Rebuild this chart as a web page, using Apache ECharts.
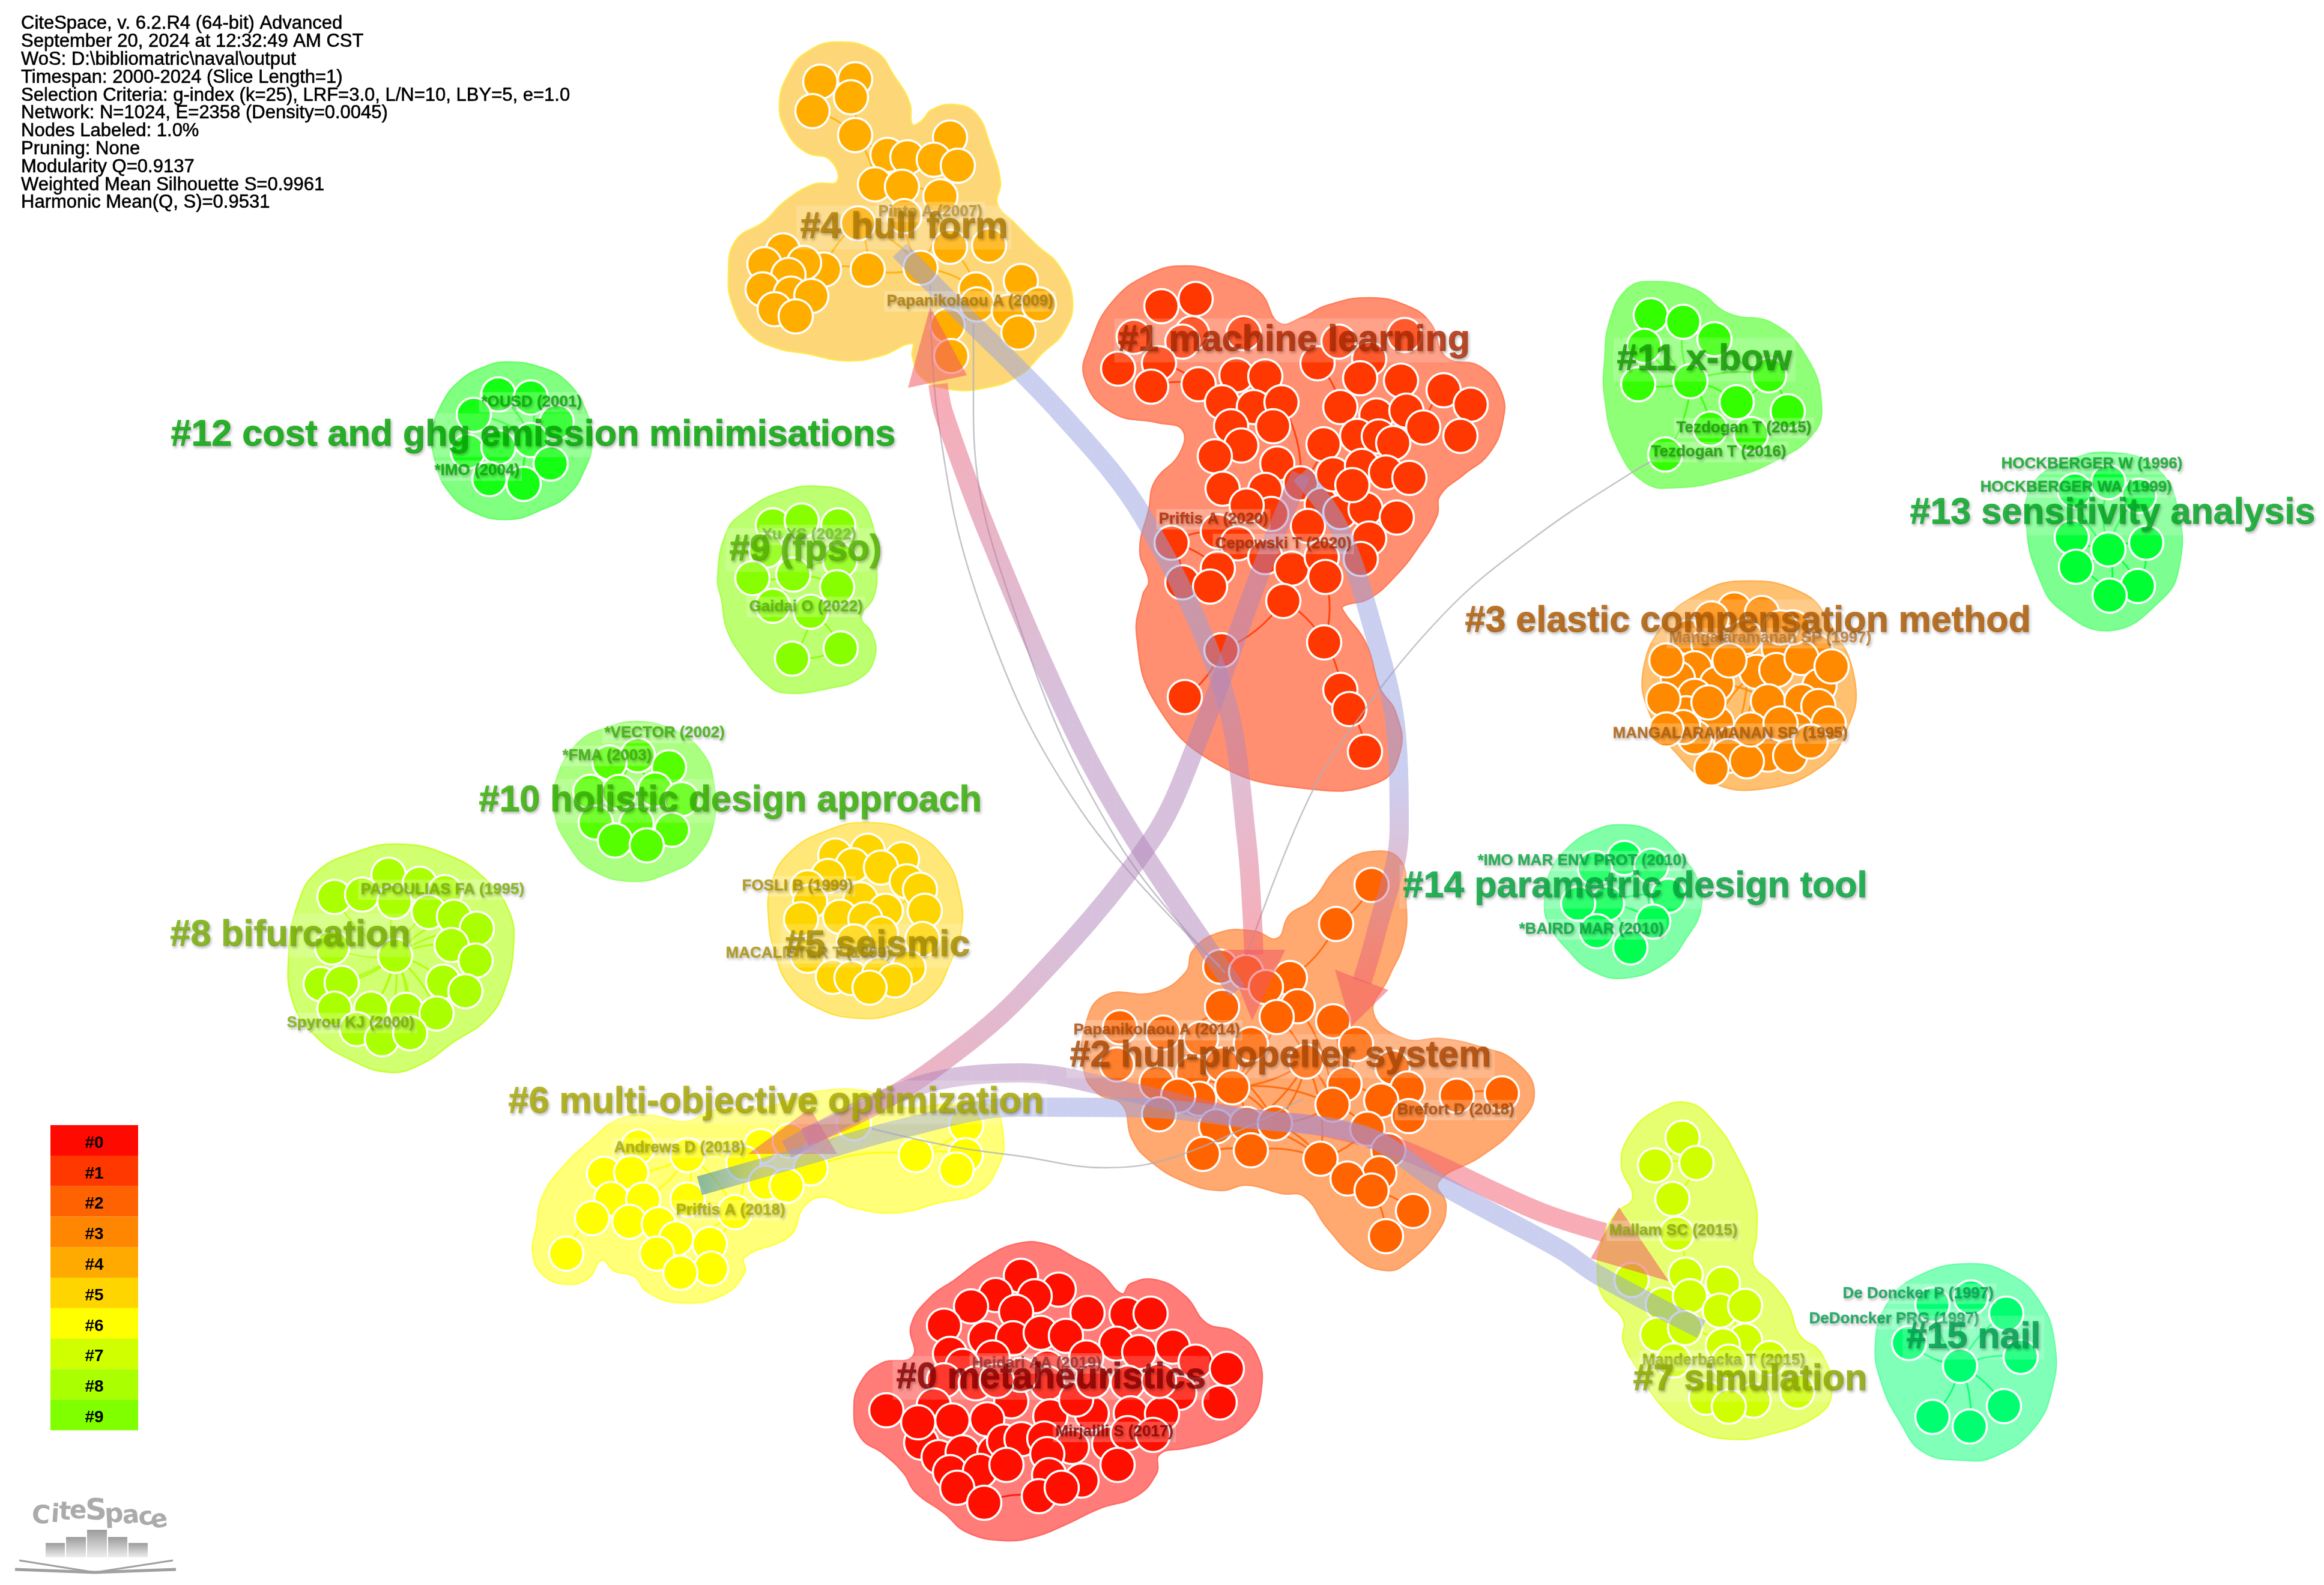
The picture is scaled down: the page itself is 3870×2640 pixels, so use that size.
<!DOCTYPE html>
<html>
<head>
<meta charset="utf-8">
<title>CiteSpace cluster view</title>
<script src="https://cdn.jsdelivr.net/npm/echarts@6/dist/echarts.min.js"></script>
<style>
html,body{margin:0;padding:0;background:#fff;}
#main{width:3870px;height:2640px;}
</style>
</head>
<body>
<div id="main"></div>
<script>
// node positions per cluster (x, y in picture pixels)
var nodes0 = [[1700,2125],[1763,2148],[1658,2157],[1723,2159],[1617,2176],[1692,2185],[1811,2187],[1876,2189],[1916,2188],[1572,2208],[1641,2229],[1687,2229],[1733,2220],[1775,2225],[1859,2238],[1897,2252],[1953,2243],[1991,2268],[2043,2280],[2031,2336],[1582,2255],[1653,2261],[1603,2275],[1809,2261],[1744,2278],[1572,2299],[1625,2304],[1684,2334],[1744,2304],[1878,2303],[1964,2320],[1476,2349],[1555,2341],[1586,2366],[1644,2364],[1749,2359],[1818,2354],[1883,2354],[1935,2355],[1792,2331],[1534,2403],[1563,2427],[1603,2419],[1656,2419],[1672,2401],[1701,2397],[1739,2396],[1785,2410],[1847,2405],[1878,2387],[1744,2422],[1582,2452],[1632,2450],[1676,2440],[1747,2457],[1861,2440],[1594,2478],[1639,2503],[1730,2492],[1801,2466],[1768,2478],[1529,2369],[1930,2300],[1700,2290],[1820,2300],[1660,2300],[1920,2390]];
var nodes1 = [[1934,510],[1991,498],[1985,555],[2071,555],[1888,561],[1969,569],[1862,614],[1930,605],[1917,644],[1996,640],[2059,625],[2107,627],[2035,670],[2088,678],[2134,670],[2120,710],[2050,710],[2067,742],[2023,760],[2127,772],[2036,814],[2107,816],[2166,805],[2201,841],[2117,856],[2076,842],[2178,876],[2028,885],[1951,904],[2061,905],[2107,928],[2028,947],[1969,970],[2015,977],[2151,947],[2201,928],[2207,961],[2232,853],[2274,848],[2326,862],[2280,897],[2266,931],[2137,1001],[2034,1083],[2205,1070],[2232,1149],[2247,1181],[2273,1252],[1973,1161],[2194,605],[2229,569],[2280,598],[2265,630],[2333,634],[2339,558],[2232,678],[2292,692],[2342,684],[2370,712],[2404,650],[2449,674],[2432,726],[2204,740],[2260,726],[2296,727],[2320,738],[2220,790],[2268,776],[2308,787],[2347,796],[2252,808]];
var nodes2 = [[2284,1474],[2225,1539],[2148,1629],[2032,1610],[2075,1619],[2108,1644],[2161,1676],[2035,1677],[2220,1701],[2126,1694],[2258,1739],[2083,1739],[1865,1711],[1937,1720],[2000,1730],[1860,1773],[1926,1804],[1987,1787],[2035,1773],[2175,1768],[2319,1778],[2239,1806],[2344,1813],[2052,1811],[1997,1830],[2300,1833],[2426,1825],[2501,1821],[1962,1825],[2219,1840],[2346,1859],[2277,1880],[1930,1856],[2025,1876],[2076,1872],[2123,1871],[2312,1916],[2003,1922],[2083,1916],[2199,1930],[2297,1954],[2244,1963],[2284,1983],[2353,2017],[2308,2059]];
var nodes3 = [[2888,1015],[2934,1021],[2812,1061],[2906,1061],[2962,1079],[3023,1084],[2845,1073],[2822,1113],[2794,1130],[2859,1139],[2925,1119],[2958,1116],[3000,1096],[3030,1142],[2822,1159],[2944,1168],[3000,1168],[3028,1176],[2808,1188],[2859,1205],[2991,1216],[2822,1228],[2883,1239],[2944,1257],[2981,1259],[2878,1259],[2909,1268],[2803,1211],[2850,1030],[2985,1045],[2775,1100],[2880,1100],[2770,1165],[2775,1215],[3050,1110],[3045,1205],[3015,1235],[2850,1280],[2915,1215],[2965,1205],[2845,1170],[2965,1045]];
var nodes4 = [[1366,136],[1424,132],[1417,162],[1353,185],[1424,225],[1582,229],[1478,258],[1511,262],[1555,266],[1595,276],[1457,307],[1502,311],[1566,327],[1506,360],[1429,372],[1582,411],[1647,409],[1533,446],[1445,449],[1372,449],[1304,417],[1339,438],[1273,440],[1313,458],[1270,482],[1317,489],[1351,493],[1290,515],[1325,527],[1625,482],[1627,507],[1700,468],[1680,519],[1730,507],[1696,554],[1578,542],[1584,593]];
var nodes5 = [[1445,1417],[1391,1425],[1502,1431],[1420,1441],[1467,1445],[1379,1459],[1510,1468],[1345,1478],[1532,1482],[1433,1498],[1349,1502],[1540,1517],[1475,1517],[1334,1531],[1399,1527],[1441,1531],[1467,1555],[1536,1564],[1422,1568],[1345,1592],[1513,1612],[1387,1627],[1418,1629],[1464,1623],[1490,1633],[1448,1645]];
var nodes6 = [[1063,1910],[1145,1924],[1267,1909],[1315,1900],[1422,1871],[1609,1874],[1525,1924],[1608,1924],[1593,1948],[1006,1955],[1051,1953],[1238,1937],[1350,1946],[1275,1970],[1310,1975],[1018,1997],[1071,1998],[1145,1998],[1224,2019],[986,2029],[1048,2035],[1097,2039],[1126,2063],[1182,2072],[943,2088],[1094,2088],[1184,2113],[1133,2120]];
var nodes7 = [[2802,1895],[2756,1941],[2825,1937],[2785,1997],[2792,2055],[2807,2123],[2869,2138],[2717,2132],[2769,2173],[2814,2159],[2864,2183],[2906,2175],[2760,2223],[2806,2212],[2906,2233],[2869,2241],[2947,2262],[2879,2268],[2787,2266],[2993,2318],[2841,2328],[2920,2333],[2879,2343]];
var nodes8 = [[647,1457],[699,1472],[557,1494],[603,1490],[741,1486],[657,1502],[714,1519],[756,1527],[794,1547],[752,1574],[553,1578],[658,1592],[792,1600],[534,1639],[569,1637],[738,1635],[775,1651],[557,1680],[618,1680],[676,1682],[727,1688],[594,1714],[636,1731],[683,1721]];
var nodes9 = [[1287,875],[1335,867],[1396,875],[1276,917],[1399,934],[1253,963],[1321,957],[1394,978],[1287,1009],[1350,1019],[1400,1080],[1319,1097]];
var nodes10 = [[1062,1258],[1015,1270],[1114,1278],[983,1319],[1031,1319],[1091,1315],[1135,1331],[992,1370],[1060,1372],[1119,1382],[1024,1400],[1077,1408]];
var nodes11 = [[2749,525],[2803,536],[2855,565],[2738,576],[2728,640],[2815,635],[2946,625],[2892,670],[2977,685],[2916,723],[2848,714],[2773,757]];
var nodes12 = [[830,657],[884,662],[789,691],[927,703],[884,733],[779,752],[830,745],[917,772],[815,798],[872,806]];
var nodes13 = [[3511,803],[3455,817],[3562,826],[3450,895],[3511,915],[3574,904],[3457,944],[3560,976],[3513,992]];
var nodes14 = [[2705,1429],[2656,1446],[2750,1442],[2676,1505],[2628,1505],[2778,1492],[2753,1535],[2659,1551],[2715,1578]];
var nodes15 = [[3218,2173],[3282,2161],[3341,2188],[3179,2237],[3365,2260],[3264,2275],[3337,2342],[3218,2360],[3280,2376]];

// cluster outlines
var hull0 = [[1696,2071],[1744,2073],[1792,2096],[1830,2117],[1868,2155],[1883,2138],[1926,2132],[1974,2159],[2009,2204],[2055,2218],[2093,2257],[2100,2317],[2079,2366],[2031,2397],[1974,2412],[1931,2422],[1926,2454],[1892,2492],[1830,2513],[1773,2540],[1725,2559],[1672,2566],[1610,2552],[1572,2520],[1524,2485],[1505,2454],[1472,2422],[1433,2394],[1422,2348],[1433,2303],[1467,2271],[1520,2259],[1517,2208],[1548,2162],[1591,2131],[1639,2096]];
var hull1 = [[1974,443],[2036,457],[2097,486],[2130,538],[2168,529],[2209,509],[2280,496],[2342,509],[2382,538],[2408,595],[2464,610],[2500,653],[2502,704],[2479,756],[2438,790],[2398,825],[2393,859],[2362,911],[2326,957],[2280,997],[2240,1008],[2235,1014],[2275,1072],[2298,1146],[2324,1186],[2332,1250],[2295,1303],[2172,1313],[2024,1271],[1925,1172],[1893,1060],[1903,991],[1913,968],[1898,917],[1913,848],[1923,802],[1964,756],[1969,716],[1928,704],[1852,687],[1806,630],[1816,572],[1852,503],[1913,457]];
var hull2 = [[2287,1418],[2332,1433],[2341,1496],[2338,1567],[2312,1629],[2287,1687],[2338,1730],[2402,1730],[2466,1744],[2523,1768],[2555,1821],[2523,1878],[2466,1926],[2395,1969],[2408,2007],[2395,2050],[2338,2107],[2306,2116],[2261,2098],[2210,2045],[2172,1993],[2134,1988],[2076,1974],[2032,1983],[1974,1969],[1917,1935],[1885,1897],[1869,1840],[1828,1821],[1805,1782],[1808,1706],[1840,1658],[1923,1653],[1974,1620],[1987,1582],[2032,1553],[2089,1551],[2127,1563],[2147,1524],[2185,1500],[2230,1443]];
var hull3 = [[2897,968],[3000,987],[3047,1038],[3089,1136],[3075,1216],[3028,1280],[2934,1314],[2850,1303],[2794,1257],[2747,1188],[2737,1113],[2775,1033],[2822,993]];
var hull4 = [[1392,70],[1457,85],[1490,128],[1515,172],[1519,207],[1535,201],[1551,183],[1588,174],[1625,189],[1649,242],[1666,303],[1661,340],[1690,372],[1727,409],[1763,442],[1786,499],[1772,552],[1735,589],[1698,625],[1641,646],[1580,648],[1535,629],[1519,593],[1519,572],[1466,593],[1408,601],[1343,589],[1294,580],[1249,556],[1221,511],[1213,458],[1225,401],[1274,368],[1306,336],[1355,307],[1394,302],[1382,266],[1343,254],[1311,221],[1298,172],[1315,119],[1343,87]];
var hull5 = [[1445,1370],[1521,1388],[1575,1433],[1598,1490],[1601,1547],[1582,1604],[1552,1657],[1498,1686],[1429,1696],[1360,1678],[1314,1641],[1291,1588],[1280,1531],[1284,1474],[1314,1421],[1376,1384]];
var hull6 = [[1029,1865],[1083,1858],[1143,1868],[1186,1850],[1262,1847],[1316,1833],[1359,1818],[1446,1818],[1500,1844],[1582,1839],[1652,1844],[1671,1897],[1663,1941],[1630,1985],[1565,2003],[1490,2020],[1419,2011],[1370,1994],[1338,2011],[1316,2058],[1240,2094],[1240,2120],[1202,2158],[1132,2170],[1078,2152],[1056,2126],[1023,2117],[1002,2099],[980,2129],[942,2139],[904,2123],[887,2088],[893,2044],[904,1991],[942,1938],[980,1903]];
var hull7 = [[2811,1837],[2855,1870],[2893,1928],[2922,1999],[2925,2057],[2920,2107],[2952,2140],[2979,2177],[2996,2223],[3034,2256],[3050,2322],[3023,2360],[2947,2389],[2882,2397],[2817,2380],[2768,2343],[2730,2285],[2703,2235],[2703,2198],[2670,2161],[2660,2119],[2670,2061],[2692,2020],[2719,1995],[2700,1941],[2714,1891],[2757,1850]];
var hull8 = [[664,1406],[748,1425],[810,1466],[848,1519],[855,1576],[840,1649],[810,1698],[756,1735],[702,1772],[649,1786],[580,1763],[527,1727],[488,1670],[481,1588],[496,1506],[527,1453],[588,1421]];
var hull9 = [[1363,810],[1424,829],[1452,871],[1460,944],[1455,994],[1434,1028],[1452,1055],[1457,1093],[1434,1128],[1378,1147],[1307,1154],[1276,1139],[1236,1093],[1210,1047],[1202,1001],[1195,963],[1210,886],[1241,852],[1297,821]];
var hull10 = [[1062,1202],[1123,1217],[1169,1253],[1188,1302],[1188,1372],[1161,1425],[1116,1453],[1054,1468],[986,1449],[947,1408],[924,1355],[928,1294],[963,1237],[1008,1213]];
var hull11 = [[2747,469],[2822,482],[2878,522],[2953,539],[3009,596],[3033,671],[3019,723],[2953,769],[2878,797],[2794,812],[2738,803],[2691,740],[2672,660],[2672,602],[2681,533],[2709,482]];
var hull12 = [[843,603],[904,613],[945,637],[975,683],[986,733],[973,783],[945,825],[904,848],[848,865],[787,852],[746,817],[726,772],[720,722],[736,672],[766,634],[802,613]];
var hull13 = [[3516,754],[3591,780],[3628,855],[3628,947],[3600,998],[3516,1050],[3431,1015],[3394,958],[3375,878],[3384,809],[3441,769]];
var hull14 = [[2702,1374],[2753,1386],[2799,1426],[2827,1466],[2832,1515],[2809,1561],[2773,1604],[2707,1629],[2651,1617],[2610,1581],[2580,1541],[2572,1505],[2580,1456],[2610,1413],[2656,1383]];
var hull15 = [[3277,2105],[3348,2123],[3397,2169],[3421,2235],[3418,2310],[3386,2380],[3321,2426],[3267,2432],[3202,2418],[3164,2368],[3134,2306],[3123,2239],[3142,2173],[3191,2127]];

// links inside clusters, as node index pairs
var edges0 = [[31,61],[31,40],[57,58],[30,18]];
var edges1 = [[42,43],[43,48],[42,44],[36,44],[44,45],[45,46],[46,47],[28,32],[28,31],[14,22],[19,22],[62,22],[8,9],[7,9],[49,55],[59,60],[58,59],[60,61],[18,20],[25,20],[28,27]];
var edges2 = [[0,1],[1,2],[2,6],[26,27],[7,13],[7,17],[9,19],[11,23],[19,23],[19,34],[19,35],[19,39],[19,29],[23,29],[23,35],[9,23],[6,29],[8,29],[10,21],[21,25],[21,29],[29,35],[29,31],[35,39],[31,39],[39,41],[41,42],[42,43],[42,44],[38,39],[33,37],[37,38],[34,39],[25,20],[22,25],[18,34],[18,35],[16,23]];
var edges3 = [[3,10],[3,15],[10,22],[9,15],[9,10],[15,19],[19,10],[3,22]];
var edges4 = [[3,4],[2,4],[4,10],[4,11],[14,18],[19,18],[17,18],[14,17],[19,14],[17,29],[15,29],[31,32],[30,35],[36,30],[17,13],[12,17],[7,5],[10,12]];
var edges5 = [[9,12],[9,14],[12,16],[14,18],[16,8]];
var edges6 = [[1,17],[1,18],[1,10],[1,11],[1,16],[11,18],[18,23],[17,18],[17,21],[24,19],[6,7],[5,6],[12,6],[12,4],[3,4],[1,3],[22,25],[25,26],[18,22],[14,18]];
var edges7 = [[0,1],[1,2],[2,3],[3,4],[4,5],[7,8],[5,8],[13,15],[10,14],[17,21],[16,19]];
var edges8 = [[11,9],[11,8],[11,7],[11,6],[11,15],[11,14],[11,18],[11,19],[11,20],[11,21],[11,22],[11,23],[11,5],[11,10],[11,2],[11,13]];
var edges9 = [[9,10],[9,11],[10,11],[6,7],[6,5],[6,8],[7,9],[4,7],[6,4]];
var edges10 = [[4,5],[4,0],[5,0],[5,2],[4,8],[5,8],[8,9],[5,6]];
var edges11 = [[5,0],[5,1],[5,2],[5,3],[5,4],[5,7],[5,11],[5,10],[6,2],[6,7],[6,8],[7,9],[5,6]];
var edges12 = [[0,4],[1,4],[2,4],[3,4],[5,4],[6,4],[7,4],[8,4],[9,4],[6,2],[7,9]];
var edges13 = [[4,0],[4,1],[4,2],[4,3],[4,5],[4,6],[4,7],[4,8],[5,7],[6,8]];
var edges14 = [[3,0],[3,1],[3,2],[3,5],[3,6],[3,8],[6,5],[6,2]];
var edges15 = [[5,0],[5,1],[5,2],[5,3],[5,4],[5,6],[5,7],[5,8]];

var nodeColors = ['#ff0f00','#ff3700','#ff6400','#ff8a00','#ffae00','#ffd500','#ffff00','#d0ff00','#aaff00','#87ff00','#55ff00','#33ff00','#14ff14','#00ff33','#00ff50','#00ff70'];
var hullColors = ['#ff7c78','#ff8f70','#ffa870','#ffc070','#fdd678','#ffe878','#ffff78','#e6ff70','#d0ff70','#bcff70','#aaff80','#90ff78','#80ff80','#7cff90','#80ffa8','#80ffb8'];
var hullEdgeColors = ['#ff6a66','#ff7c5c','#ff9a5c','#ffb050','#ffe850','#ffe040','#ffff40','#e0ff30','#c4ff30','#aaff50','#9aff70','#80ff68','#66ff66','#66ff80','#66ff90','#66ffa8'];
var textColors = ['#8c0000','#b02800','#b04800','#b05a00','#b07c00','#aa8f00','#aaaa00','#90aa00','#78b000','#55b400','#33b000','#119e00','#00a800','#00a820','#00a83c','#00a050'];

var clusterLabels = [
    ['#0 metaheuristics',1493,2292,0],
    ['#1 machine learning',1862,564,1],
    ['#2 hull-propeller system',1782,1756,2],
    ['#3 elastic compensation method',2440,1032,3],
    ['#4 hull form',1333,376,4],
    ['#5 seismic',1307,1572,5],
    ['#6 multi-objective optimization',847,1833,6],
    ['#7 simulation',2720,2295,7],
    ['#8 bifurcation',284,1555,8],
    ['#9 (fpso)',1215,913,9],
    ['#10 holistic design approach',798,1331,10],
    ['#11 x-bow',2693,596,11],
    ['#12 cost and ghg emission minimisations',285,722,12],
    ['#13 sensitivity analysis',3181,852,13],
    ['#14 parametric design tool',2337,1474,14],
    ['#15 nail',3175,2225,15]
];
var authorLabels = [
    ['Pinto A (2007)',1463,350,4],
    ['Papanikolaou A (2009)',1477,499,4],
    ['Priftis A (2020)',1930,862,1],
    ['Cepowski T (2020)',2024,903,1],
    ['*OUSD (2001)',802,667,12],
    ['*IMO (2004)',724,781,12],
    ['Xu XS (2022)',1269,888,9],
    ['Gaidai O (2022)',1248,1008,9],
    ['*VECTOR (2002)',1007,1218,10],
    ['*FMA (2003)',937,1256,10],
    ['PAPOULIAS FA (1995)',601,1479,8],
    ['Spyrou KJ (2000)',478,1701,8],
    ['FOSLI B (1999)',1236,1473,5],
    ['MACALISTER T (1999)',1209,1585,5],
    ['Andrews D (2018)',1023,1909,6],
    ['Priftis A (2018)',1126,2013,6],
    ['Papanikolaou A (2014)',1788,1713,2],
    ['Brefort D (2018)',2327,1846,2],
    ['Heidari AA (2019)',1619,2268,0],
    ['Mirjalili S (2017)',1758,2382,0],
    ['Mallam SC (2015)',2680,2047,7],
    ['Manderbacka T (2015)',2735,2263,7],
    ['De Doncker P (1997)',3069,2152,15],
    ['DeDoncker PRG (1997)',3013,2194,15],
    ['Tezdogan T (2015)',2792,710,11],
    ['Tezdogan T (2016)',2750,750,11],
    ['HOCKBERGER W (1996)',3333,770,13],
    ['HOCKBERGER WA (1999)',3298,809,13],
    ['Mangalaramanan SP (1997)',2780,1060,3],
    ['MANGALARAMANAN SP (1995)',2686,1219,3],
    ['*IMO MAR ENV PROT (2010)',2461,1431,14],
    ['*BAIRD MAR (2010)',2530,1545,14]
];

// thick citation bands
var band1 = [[1498,417],[1600,520],[1768,690],[1903,860],[2036,1146],[2076,1400],[2088,1590]];
var band2 = [[2060,1650],[1891,1400],[1790,1220],[1650,900],[1572,690],[1562,640]];
var band3 = [[2166,790],[2230,880],[2290,1060],[2325,1220],[2330,1380],[2290,1560],[2268,1635]];
var band4 = [[2166,790],[2100,950],[2000,1220],[1917,1400],[1700,1658],[1555,1780],[1446,1847],[1340,1895]];
var band5 = [[1310,1915],[1440,1845],[1560,1800],[1700,1787],[1891,1821],[2057,1859],[2210,1878],[2338,1916],[2561,2017],[2672,2053]];
var band6 = [[1165,1975],[1338,1926],[1500,1880],[1695,1844],[1891,1845],[2083,1864],[2274,1892],[2402,1974],[2600,2082],[2660,2123],[2833,2214]];
var head1 = [[2085,1700],[2038,1582],[2140,1582]];
var head2 = [[1549,511],[1512,646],[1610,625]];
var head3 = [[2250,1710],[2223,1615],[2312,1649]];
var head4 = [[1246,1922],[1349,1846],[1394,1922]];
var head5 = [[2779,2134],[2696,2011],[2649,2096]];
var headList = [head1,head2,head3,head4,head5];

// thin grey arcs between clusters
var arc1 = [[2773,757],[2719,786],[2550,899],[2400,1027],[2245,1221],[2170,1350],[2076,1591]];
var arc2 = [[1621,540],[1621,690],[1700,1050],[1860,1400],[2040,1620]];
var arc3 = [[1549,474],[1561,690],[1640,1030],[1800,1350],[2032,1610]];
var arc4 = [[1452,1880],[1582,1909],[1700,1926],[1840,1945],[1968,1923],[2170,1830]];
var arcList = [arc1,arc2,arc3,arc4];

var metaLines = [
    'CiteSpace, v. 6.2.R4 (64-bit) Advanced',
    'September 20, 2024 at 12:32:49 AM CST',
    'WoS: D:\\bibliomatric\\naval\\output',
    'Timespan: 2000-2024 (Slice Length=1)',
    'Selection Criteria: g-index (k=25), LRF=3.0, L/N=10, LBY=5, e=1.0',
    'Network: N=1024, E=2358 (Density=0.0045)',
    'Nodes Labeled: 1.0%',
    'Pruning: None',
    'Modularity Q=0.9137',
    'Weighted Mean Silhouette S=0.9961',
    'Harmonic Mean(Q, S)=0.9531'
];

var legendNames = ['#0','#1','#2','#3','#4','#5','#6','#7','#8','#9'];
var legendColors = ['#ff0a00','#ff3800','#ff6200','#ff8600','#ffaa00','#ffd500','#ffff00','#d0ff00','#aaff00','#80ff00'];

var logoBars = [[76,108,2570],[110,143,2560],[145,178,2548],[180,212,2560],[214,246,2570]];
var logoBook1 = [[32,2599],[158,2619],[288,2599]];
var logoBook2 = [[25,2614],[158,2619],[293,2614]];
// letter, x, y, tilt in degrees, size
var logoLetters = [['C',68,2526,5,42],['i',92,2524,4,42],['t',108,2520,3,42],['e',130,2518,2,42],['S',160,2518,0,50],['p',190,2524,-3,44],['a',218,2526,-5,42],['c',243,2529,-7,42],['e',265,2533,-9,42]];

var nodeSets = [nodes0,nodes1,nodes2,nodes3,nodes4,nodes5,nodes6,nodes7,nodes8,nodes9,nodes10,nodes11,nodes12,nodes13,nodes14,nodes15];
var hullSets = [hull0,hull1,hull2,hull3,hull4,hull5,hull6,hull7,hull8,hull9,hull10,hull11,hull12,hull13,hull14,hull15];
var edgeSets = [edges0,edges1,edges2,edges3,edges4,edges5,edges6,edges7,edges8,edges9,edges10,edges11,edges12,edges13,edges14,edges15];

var chart = echarts.init(document.getElementById('main'), null, {renderer:'canvas', devicePixelRatio:1});
var FONT = '"Liberation Sans", Arial, sans-serif';
var BLUE = 'rgba(150,160,225,0.5)';
var MAUVE = 'rgba(175,130,185,0.5)';
var TEAL = 'rgba(60,140,170,0.6)';
var PINK = 'rgba(240,90,110,0.5)';
var series = [];

function polygonSeries(points, fill, stroke, smooth, z){
    return {
        type:'custom', coordinateSystem:'cartesian2d', silent:true, z:z, clip:false,
        data:[0],
        renderItem:function(params, api){
            var pts = [];
            for(var i=0;i<points.length;i++){
                pts.push(api.coord(points[i]));
            }
            return {
                type:'polygon',
                shape:{points:pts, smooth:smooth},
                style:{fill:fill, stroke:stroke, lineWidth:stroke ? 2.5 : 0}
            };
        }
    };
}

// hulls first, then links, then nodes
for(var c=0;c<nodeSets.length;c++){
    series.push(polygonSeries(hullSets[c], hullColors[c], hullEdgeColors[c], 0.45, 1));
}
for(var c=0;c<nodeSets.length;c++){
    var linkData = [];
    for(var k=0;k<edgeSets[c].length;k++){
        linkData.push({coords:[nodeSets[c][edgeSets[c][k][0]], nodeSets[c][edgeSets[c][k][1]]]});
    }
    series.push({
        type:'lines', coordinateSystem:'cartesian2d', silent:true, z:2,
        data:linkData,
        lineStyle:{color:nodeColors[c], width:3, curveness:0.15, opacity:0.85}
    });
}
for(var c=0;c<nodeSets.length;c++){
    series.push({
        type:'scatter', silent:true, z:3,
        symbol:'circle', symbolSize:57,
        data:nodeSets[c],
        itemStyle:{color:nodeColors[c], borderColor:'#ffffff', borderWidth:3.5, opacity:1}
    });
}

// bands and arrow heads over the nodes
function bandSeries(points, stops, width){
    var last = points[points.length-1];
    var colorStops = [];
    for(var i=0;i<stops.length;i++){
        colorStops.push({offset:stops[i][0], color:stops[i][1]});
    }
    return {
        type:'line', silent:true, z:5, smooth:0.35, showSymbol:false,
        data:points,
        lineStyle:{
            width:width, cap:'butt',
            color:new echarts.graphic.LinearGradient(points[0][0],points[0][1],last[0],last[1],colorStops,true)
        }
    };
}
series.push(bandSeries(band1, [[0,BLUE],[0.6,BLUE],[1,PINK]], 32));
series.push(bandSeries(band2, [[0,MAUVE],[0.5,MAUVE],[1,PINK]], 32));
series.push(bandSeries(band3, [[0,BLUE],[0.6,BLUE],[1,PINK]], 32));
series.push(bandSeries(band4, [[0,MAUVE],[0.6,MAUVE],[1,PINK]], 32));
series.push(bandSeries(band5, [[0,MAUVE],[0.4,MAUVE],[0.65,PINK],[1,PINK]], 32));
series.push(bandSeries(band6, [[0,TEAL],[0.06,BLUE],[1,BLUE]], 32));
for(var h=0;h<headList.length;h++){
    series.push(polygonSeries(headList[h], 'rgba(240,90,100,0.55)', null, 0, 5));
}
for(var a=0;a<arcList.length;a++){
    series.push({
        type:'line', silent:true, z:4, smooth:0.4, showSymbol:false,
        data:arcList[a],
        lineStyle:{width:2.5, color:'rgba(175,175,185,0.75)'}
    });
}

function textSeries(list, size, plate, pad, thick){
    var data = [];
    for(var i=0;i<list.length;i++){
        data.push({
            name:list[i][0],
            value:[list[i][1], list[i][2]],
            label:{color:textColors[list[i][3]], textBorderColor:textColors[list[i][3]], textBorderWidth:thick}
        });
    }
    return {
        type:'scatter', silent:true, z:8,
        symbolSize:1, itemStyle:{color:'rgba(0,0,0,0)'},
        data:data,
        label:{
            show:true, position:'right', distance:0, offset:[-pad-1,3],
            formatter:'{b}',
            fontFamily:FONT, fontWeight:'bold', fontSize:size,
            backgroundColor:plate, padding:[pad,pad],
            textShadowColor:'rgba(0,0,0,0.32)', textShadowBlur:4,
            textShadowOffsetX:2, textShadowOffsetY:3
        }
    };
}
series.push(textSeries(authorLabels, 26, 'rgba(255,255,255,0.3)', 4, 0.3));
series.push(textSeries(clusterLabels, 61, 'rgba(255,255,255,0.22)', 6, 0.8));

// colour key
series.push({
    type:'custom', coordinateSystem:'cartesian2d', silent:true, z:6,
    data:legendNames,
    renderItem:function(params, api){
        var i = params.dataIndex;
        var p = api.coord([84, 1874 + i*50.8]);
        return {
            type:'group',
            children:[
                {type:'rect', shape:{x:p[0], y:p[1], width:146, height:51}, style:{fill:legendColors[i]}},
                {type:'text', style:{text:legendNames[i], x:p[0]+73, y:p[1]+30, align:'center', verticalAlign:'middle',
                    font:'bold 28px '+FONT, fill:'#000'}}
            ]
        };
    }
});

// logo
series.push({
    type:'custom', coordinateSystem:'cartesian2d', silent:true, z:6,
    data:logoBars,
    renderItem:function(params, api){
        var bar = logoBars[params.dataIndex];
        var p0 = api.coord([bar[0], bar[2]]);
        var p1 = api.coord([bar[1], 2594]);
        return {
            type:'rect',
            shape:{x:p0[0], y:p0[1], width:p1[0]-p0[0], height:p1[1]-p0[1]},
            style:{fill:new echarts.graphic.LinearGradient(0,0,0,1,[{offset:0,color:'#9c9c9c'},{offset:1,color:'#eeeeee'}])}
        };
    }
});
series.push({type:'line', silent:true, z:6, showSymbol:false, data:logoBook1, lineStyle:{color:'#a0a0a0', width:3}});
series.push({type:'line', silent:true, z:6, showSymbol:false, data:logoBook2, lineStyle:{color:'#a0a0a0', width:5}});
series.push({
    type:'custom', coordinateSystem:'cartesian2d', silent:true, z:6,
    data:logoLetters,
    renderItem:function(params, api){
        var l = logoLetters[params.dataIndex];
        var p = api.coord([l[1], l[2]]);
        return {
            type:'text', x:p[0], y:p[1], rotation:l[3]*Math.PI/-180,
            style:{text:l[0], x:0, y:0, align:'center', verticalAlign:'middle',
                font:'bold '+l[4]+'px "DejaVu Sans"', fill:'#ababab'}
        };
    }
});

chart.setOption({
    animation:false,
    backgroundColor:'#ffffff',
    title:{
        left:30, top:20,
        text:metaLines.join('\n'),
        textStyle:{fontFamily:FONT, fontWeight:'normal', fontSize:31, lineHeight:29.8, color:'#000000', textBorderColor:'#000000', textBorderWidth:0.6}
    },
    grid:{left:0, right:0, top:0, bottom:0},
    xAxis:{type:'value', min:0, max:3870, show:false},
    yAxis:{type:'value', min:0, max:2640, inverse:true, show:false},
    series:series
});
</script>
</body>
</html>
